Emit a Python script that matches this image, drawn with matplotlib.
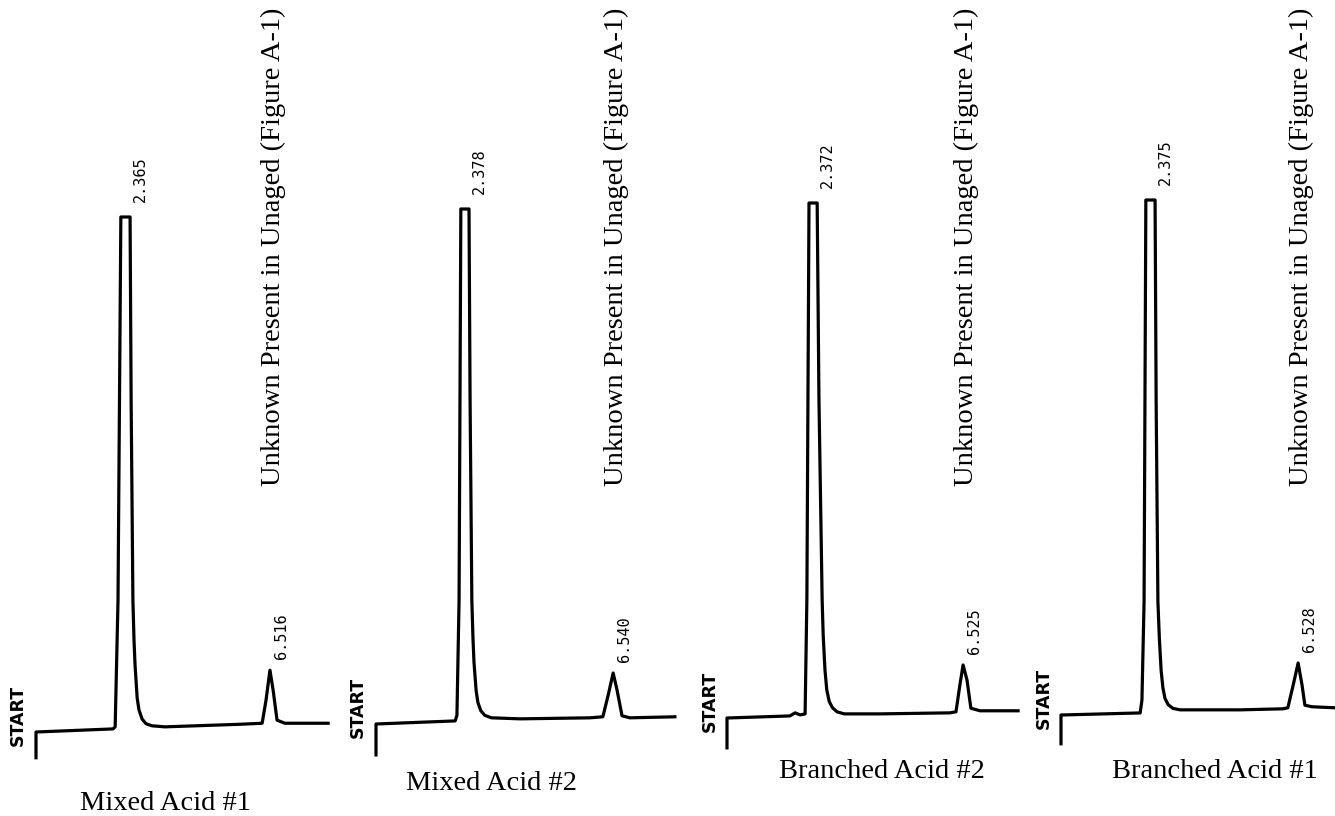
import matplotlib
matplotlib.use('Agg')
import matplotlib.pyplot as plt

W, H = 1335, 816
PX_MIN = 35.5    # chart speed, px per minute
PX_UNIT = 5.15   # px per signal unit (pen full scale = 100)

names = ['Mixed Acid #1', 'Mixed Acid #2', 'Branched Acid #2', 'Branched Acid #1']
rt_main = ['2.365', '2.378', '2.372', '2.375']
rt_small = ['6.516', '6.540', '6.525', '6.528']
note = 'Unknown Present in Unaged (Figure A-1)'

# strip chart traces: time since START (min), signal (% of full scale)
t1 = [0, 0, 2.17, 2.23, 2.31, 2.39, 2.65, 2.68, 2.73, 2.76, 2.79, 2.85, 2.90, 2.99, 3.10, 3.27, 3.63,
      5.75, 6.37, 6.48, 6.59, 6.68, 6.79, 7.01, 8.23]
s1 = [-5.0, 0, 0.6, 1.0, 25.5, 100, 100, 64, 25.5, 18, 13, 6.6, 4.3, 2.5, 1.6, 1.2, 1.0,
      1.5, 1.7, 6.2, 12, 8.1, 2.3, 1.7, 1.7]

t2 = [0, 0, 2.23, 2.28, 2.34, 2.39, 2.62, 2.65, 2.70, 2.73, 2.76, 2.82, 2.87, 2.95, 3.06, 3.25, 4.06,
      6.03, 6.39, 6.54, 6.68, 6.79, 6.93, 7.15, 8.42]
s2 = [-6.0, 0, 0.6, 1.7, 24, 100, 100, 63, 24, 17, 12, 6.5, 4.2, 2.6, 1.7, 1.2, 1.0,
      1.2, 1.4, 5.6, 9.9, 6.6, 1.6, 1.2, 1.4]

t3 = [0, 0, 1.77, 1.92, 2.06, 2.20, 2.25, 2.31, 2.54, 2.59, 2.68, 2.71, 2.76, 2.81, 2.88, 2.97, 3.10, 3.30,
      4.31, 6.28, 6.45, 6.56, 6.65, 6.76, 6.87, 7.13, 8.20]
s3 = [-5.8, 0, 0.4, 1.0, 0.6, 0.8, 23, 100, 100, 62, 23, 16, 9.3, 5.5, 3.2, 2.0, 1.2, 0.8,
      0.8, 1.0, 1.2, 6.4, 10.3, 7.4, 1.9, 1.4, 1.4]

t4 = [0, 0, 2.23, 2.28, 2.34, 2.39, 2.65, 2.68, 2.73, 2.77, 2.82, 2.87, 2.93, 3.02, 3.15, 3.35,
      5.04, 6.25, 6.39, 6.54, 6.68, 6.79, 6.87, 7.07, 7.72]
s4 = [-5.6, 0, 0.4, 2.9, 22, 100, 100, 61, 22, 15, 8.7, 5.3, 3.2, 2.0, 1.3, 1.0,
      1.0, 1.2, 1.4, 5.8, 10.1, 5.8, 1.9, 1.6, 1.4]

times = [t1, t2, t3, t4]
signals = [s1, s2, s3, s4]

# where each strip sits on the page (px)
start_px = [36, 376, 727, 1061]
base_px = [732, 724, 718, 715]
caption_px = [(165, 803), (491, 783), (882, 771), (1215, 771)]

fig = plt.figure(figsize=(W / 100, H / 100), dpi=100)

for i in range(4):
    x0, y0 = start_px[i], base_px[i]
    ax = fig.add_axes([(x0 - 0.9 * PX_MIN) / W, 0, 9.5 * PX_MIN / W, 1])
    ax.set_xlim(-0.9, 8.6)
    ax.set_ylim((y0 - H) / PX_UNIT, y0 / PX_UNIT)
    ax.axis('off')

    t, s = times[i], signals[i]
    ax.plot(t, s, color='black', lw=2.3, solid_joinstyle='round', clip_on=False)

    top_end = max(tt for tt, ss in zip(t, s) if ss >= 100)
    ax.text(top_end + 0.28, 103, rt_main[i], rotation=90, ha='center', va='bottom',
            family='DejaVu Sans Mono', fontsize=11)

    k = max(range(len(t)), key=lambda j: s[j] if t[j] > 5 else -1)
    ax.text(t[k] + 0.33, s[k] + 2.2, rt_small[i], rotation=90, ha='center', va='bottom',
            family='DejaVu Sans Mono', fontsize=11)

    ax.text(-0.5, -2.7, 'START', rotation=90, ha='center', va='bottom',
            family='DejaVu Sans', fontsize=12.5, fontweight='bold')

    ax.text(t[k] + 0.1, 1 - 8 / H, note, transform=ax.get_xaxis_transform(),
            rotation=90, ha='center', va='top', family='Liberation Serif', fontsize=20.5)

    cx, cy = caption_px[i]
    fig.text(cx / W, 1 - cy / H, names[i], ha='center', va='center',
             family='Liberation Serif', fontsize=20.5)

fig.savefig('out.png', dpi=100, facecolor='white')
